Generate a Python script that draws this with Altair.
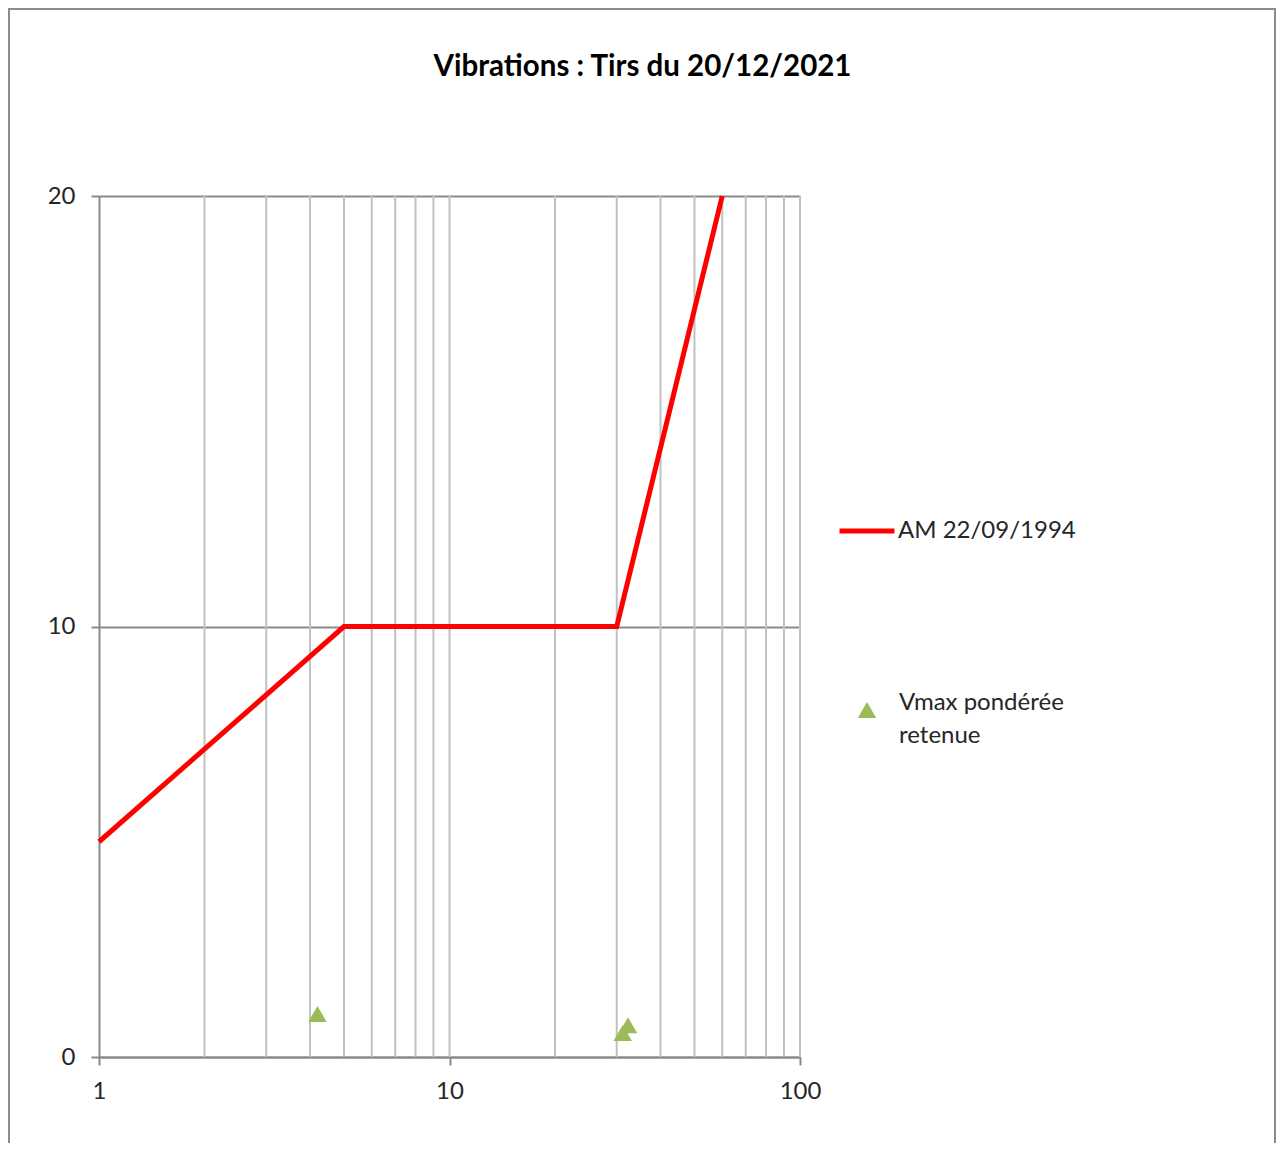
import altair as alt
import pandas as pd

# ---- data ----
limit_freq = [1, 5, 30, 60]
limit_vel = [5, 10, 10, 20]
limit_name = "AM 22/09/1994"

shot_freq = [4.2, 31.2, 32.3]
shot_vel = [1.0, 0.56, 0.74]
shot_name = "Vmax pondérée|retenue"

grid_freq = [2, 3, 4, 5, 6, 7, 8, 9, 10, 20, 30, 40, 50, 60, 70, 80, 90, 100]
x_ticks = [1, 10, 100]
y_ticks = [0, 10, 20]
x_domain = [1, 100]
y_domain = [0, 20]

title_text = "Vibrations : Tirs du 20/12/2021"

limit_df = pd.DataFrame({"f": limit_freq, "v": limit_vel, "serie": limit_name})
shot_df = pd.DataFrame({"f": shot_freq, "v": shot_vel, "serie": shot_name})
grid_df = pd.DataFrame({"f": grid_freq, "y0": y_domain[0], "y1": y_domain[1]})
frame_df = pd.DataFrame({"k": [0]})

FONT = "Lato"
W, H = 701, 861
DARK = "#8a8a8a"
LIGHT = "#c0c0c0"

xs = alt.Scale(type="log", domain=x_domain, nice=False)
ys = alt.Scale(domain=y_domain, nice=False, zero=False)

x_axis = alt.Axis(values=x_ticks, grid=False, title=None, format="d",
                  tickSize=8, tickColor=DARK, tickWidth=2,
                  domainColor=DARK, domainWidth=2, labelFlush=False,
                  labelFont=FONT, labelFontSize=24, labelColor="#262626",
                  labelPadding=14)
y_axis = alt.Axis(values=y_ticks, grid=True, gridColor=DARK, gridWidth=2,
                  title=None, tickSize=8, tickColor=DARK, tickWidth=2,
                  domainColor=DARK, domainWidth=2, labelFlush=False,
                  labelFont=FONT, labelFontSize=24, labelColor="#262626",
                  labelPadding=16)

frame = alt.Chart(frame_df).mark_rect(
    fillOpacity=0, stroke="#8c8c8c", strokeWidth=2
).encode(
    x=alt.value(-90), x2=alt.value(1268 - 91 - 1),
    y=alt.value(-187), y2=alt.value(1000)
)

grid = alt.Chart(grid_df).mark_rule(color=LIGHT, strokeWidth=2).encode(
    x=alt.X("f:Q", scale=xs, axis=x_axis),
    y=alt.Y("y0:Q", scale=ys, axis=y_axis),
    y2="y1:Q",
)

line = alt.Chart(limit_df).mark_line(strokeWidth=5).encode(
    x=alt.X("f:Q", scale=xs, axis=x_axis),
    y=alt.Y("v:Q", scale=ys, axis=y_axis),
    color=alt.Color("serie:N",
                    scale=alt.Scale(domain=[limit_name], range=["#ff0000"]),
                    legend=alt.Legend(title=None, orient="none",
                                      legendX=738, legendY=305,
                                      symbolType="stroke", symbolSize=3025,
                                      symbolStrokeWidth=5, padding=0,
                                      labelOffset=1, labelLimit=400,
                                      labelFont=FONT,
                                      labelFontSize=24, labelColor="#262626")),
)

points = alt.Chart(shot_df).mark_point(filled=True, size=340, opacity=1,
                                       color="#9bbb59").encode(
    x=alt.X("f:Q", scale=xs, axis=x_axis),
    y=alt.Y("v:Q", scale=ys, axis=y_axis),
    shape=alt.Shape("serie:N",
                    scale=alt.Scale(domain=[shot_name], range=["triangle-up"]),
                    legend=alt.Legend(title=None, orient="none",
                                      legendX=756, legendY=502,
                                      symbolSize=340, symbolFillColor="#9bbb59",
                                      symbolStrokeWidth=0, symbolOpacity=1,
                                      padding=0, labelOffset=20, labelLimit=400,
                                      labelBaseline="alphabetic",
                                      labelExpr="split(datum.label, '|')",
                                      labelFont=FONT, labelFontSize=24,
                                      labelColor="#262626")),
)

chart = alt.layer(frame, grid, line, points).properties(
    width=W, height=H,
    title=alt.TitleParams(title_text, font=FONT, fontSize=29.5, fontWeight="bold",
                          color="#000000", anchor="middle", dx=193, offset=0,
                          dy=74),
    autosize=alt.AutoSizeParams(type="none"),
    padding={"left": 91, "top": 188, "right": 476, "bottom": 86},
).configure_view(strokeWidth=0).configure(
    style={"guide-label": {"lineHeight": 33}}
)

chart.save("out.html", embed_options={"renderer": "svg", "actions": False})
